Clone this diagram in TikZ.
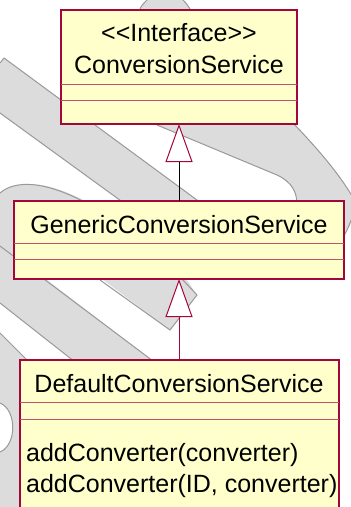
\documentclass[tikz,border=0pt]{standalone}
\usepackage{fontspec}
\newfontfamily\umlfont{Liberation Sans}
\usetikzlibrary{arrows.meta}
\definecolor{umlred}{HTML}{A3063A}
\definecolor{umlfill}{HTML}{FFFFCC}
\definecolor{wmfill}{HTML}{DCDCDC}
\definecolor{wmline}{HTML}{999999}
\begin{document}
\begin{tikzpicture}[x=1pt,y=-1pt,
  umlbox/.style={draw=umlred, fill=umlfill, line width=1.4pt, inner sep=0pt, outer sep=0pt, anchor=north west, rectangle},
  divider/.style={draw=umlred!70, line width=1pt},
  umltext/.style={font=\umlfont\fontsize{25}{30}\selectfont, inner sep=0pt, anchor=base},
  wmband/.style={fill=wmfill, draw=none},
  wmwhite/.style={fill=white, draw=none},
  wmedge/.style={draw=wmline, line width=1pt},
  inherit/.style={line width=1pt, -{Triangle[length=38pt, width=27pt, color=umlred, fill=white]}}
]
\useasboundingbox (0,0) rectangle (351,507);
\clip (0,0) rectangle (351,507);
\fill[white] (0,0) rectangle (351,507);

% ---- watermark ----
% top stub
\fill[wmband] (138,14) .. controls (141,6) .. (147,0) -- (183,0) .. controls (187,4) .. (193,14) -- cycle;
\draw[wmedge] (138,14) .. controls (141,6) .. (147,0);
\draw[wmedge] (183,0) .. controls (187,4) .. (193,14);
% band A (right)
\fill[wmband] (150,124) -- (157,125) -- (277,175) .. controls (292,182) and (297,192) .. (297,205)
  -- (300,240) -- (344,244) -- (344,236) .. controls (349,226) .. (352,218) -- (352,196)
  .. controls (338,172) and (315,146) .. (293,123) -- cycle;
\draw[wmedge] (157,125) -- (277,175) .. controls (292,182) and (297,192) .. (297,205);
\draw[wmedge] (293,123) .. controls (315,146) and (338,172) .. (352,196);
\draw[wmedge] (352,218) .. controls (349,226) .. (344,236);
% band 1 (left diagonal)
\fill[wmband] (0,63) -- (4,58) -- (216,214) -- (139,214) -- (0,113) -- cycle;
\draw[wmedge] (0,63) -- (4,58) -- (216,214);
\draw[wmedge] (0,113) -- (139,214);
% left loop and lower-left region
\fill[wmband] (0,193) .. controls (15,180) and (45,180) .. (83,200) -- (100,260) -- (47,280)
  -- (153,361) -- (30,362) -- (30,510) -- (0,510) -- cycle;
\draw[wmedge] (0,193) .. controls (15,180) and (45,180) .. (90,205);
\draw[wmedge] (0,246) -- (153,361);
% white stripe between c and d
\fill[wmwhite] (0,333) -- (29,362) -- (75,362) -- (0,303) -- cycle;
\draw[wmedge] (0,303) -- (75,362);
\draw[wmedge] (0,333) -- (29,362);
% white bump on the left
\fill[wmwhite] (0,403) .. controls (17,410) and (17,445) .. (0,452) -- cycle;
\draw[wmedge] (0,403) .. controls (17,410) and (17,445) .. (0,452);
% band B with square end
\fill[wmband] (90,270) -- (170,330) -- (197,295) -- (180,270) -- cycle;
\draw[wmedge] (100,280) -- (170,330) -- (197,295) -- (182,279);

% ---- UML classes ----
\node[umlbox, minimum width=236pt, minimum height=114pt] (cs) at (61,10) {};
\draw[divider] (cs.west |- 0,84) -- (cs.east |- 0,84);
\draw[divider] (cs.west |- 0,100) -- (cs.east |- 0,100);
\node[umltext] (csst) at (cs.north |- 0,41) {<\kern0pt<Interface>\kern0pt>};
\node[umltext] (csname) at (cs.north |- 0,73) {ConversionService};

\node[umlbox, minimum width=330pt, minimum height=78pt] (gcs) at (14,201) {};
\draw[divider] (gcs.west |- 0,243) -- (gcs.east |- 0,243);
\draw[divider] (gcs.west |- 0,259) -- (gcs.east |- 0,259);
\node[umltext] (gcsname) at (gcs.north |- 0,233) {GenericConversionService};

\node[umlbox, minimum width=319pt, minimum height=152pt] (dcs) at (20,360) {};
\draw[divider] (dcs.west |- 0,402) -- (dcs.east |- 0,402);
\draw[divider] (dcs.west |- 0,419) -- (dcs.east |- 0,419);
\node[umltext] (dcsname) at (gcs.north |- 0,392) {DefaultConversionService};
\node[umltext, anchor=base west] (m1) at (26,461.5) {addConverter(converter)};
\node[umltext, anchor=base west] (m2) at (26,492.5) {addConverter(ID, converter)};

% ---- generalisations ----
\draw[inherit, draw=black] (gcs.north) -- (cs.south);
\draw[inherit, draw=umlred] (gcs.south |- dcs.north) -- (gcs.south);
\end{tikzpicture}
\end{document}
